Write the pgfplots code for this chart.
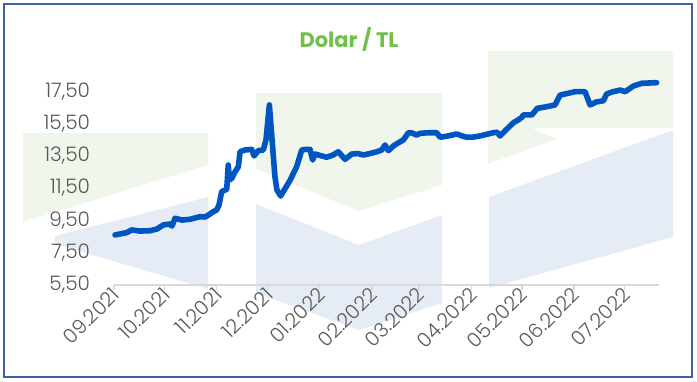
\documentclass[border=0pt]{standalone}
\usepackage{pgfplots}
\pgfplotsset{compat=1.18}
\usepackage{fontspec}
\setmainfont{Poppins}
\IfFontExistsTF{Poppins Light}{\newfontfamily\lightfont{Poppins Light}}{\newfontfamily\lightfont{Poppins}}
\definecolor{linecol}{RGB}{0,86,192}
\definecolor{titlegreen}{RGB}{112,192,74}
\definecolor{ticktext}{RGB}{89,89,89}
\definecolor{axisgray}{RGB}{217,217,217}
\definecolor{wmgreen}{RGB}{240,246,235}
\definecolor{wmblue}{RGB}{230,236,246}
\definecolor{bordercol}{RGB}{62,96,166}
\begin{document}
\begin{tikzpicture}
\begin{scope}[x=0.5pt,y=-0.5pt,yshift=190.5pt]
\useasboundingbox (0,0) rectangle (697,381);
% watermark
\fill[wmgreen] (23,133)--(208,133)--(208,165)--(23,222)--cycle;
\fill[wmblue] (55,236)--(208,197)--(208,289)--(55,244)--cycle;
\fill[wmgreen] (256,93)--(442,93)--(442,185)--(359,211)--(256,169)--cycle;
\fill[wmblue] (256,204)--(359,245)--(442,215)--(442,303)--(359,330)--(256,293)--cycle;
\fill[wmgreen] (488,51)--(673,51)--(673,128)--(532,128)--(557,139)--(488,164)--cycle;
\fill[wmblue] (489,197)--(673,130)--(673,237)--(489,288)--cycle;
\draw[bordercol, line width=1pt] (3.5,4.5) rectangle (692,376.5);
\node[font=\bfseries\fontsize{10.5}{12}\selectfont, text=titlegreen] at (349,39) {Dolar / TL};
\end{scope}
\begin{axis}[
  at={(57pt,48pt)}, anchor=south west,
  scale only axis, width=272.5pt, height=104.975pt,
  xmin=0, xmax=323.4, ymin=5.5, ymax=18.5,
  axis x line*=bottom, axis y line*=left,
  x axis line style={draw=axisgray, line width=0.8pt, -},
  y axis line style={draw=none},
  ytick style={draw=none},
  xtick style={draw=axisgray, line width=0.7pt},
  tick align=outside, major tick length=2.5pt,
  xtick={0,30,61,91,122,153,181,212,242,273,303},
  xticklabels={09.2021,10.2021,11.2021,12.2021,01.2022,02.2022,03.2022,04.2022,05.2022,06.2022,07.2022},
  ytick={5.5,7.5,9.5,11.5,13.5,15.5,17.5},
  /pgf/number format/.cd, use comma, fixed, fixed zerofill, precision=2, assume math mode=true,
  /pgfplots/.cd,
  tick label style={font=\lightfont\fontsize{10}{12}\selectfont, text=ticktext},
  x tick label style={rotate=45, anchor=east, inner sep=1pt, xshift=1.5pt, yshift=-1pt},
  y tick label style={xshift=-6pt},
  clip=false,
]
\addplot[linecol, line width=2.8pt, line join=round, line cap=round] coordinates {
(0.6,8.60) (3.6,8.66) (7.5,8.74) (10.5,8.91) (15.4,8.84) (21.4,8.86) (25.5,8.97)
(29.3,9.22) (33.2,9.28) (34.4,9.15) (36.2,9.63) (40.4,9.52) (45.1,9.57) (51.0,9.73)
(54.0,9.71) (56.0,9.83) (58.9,10.04) (60.9,10.14) (62.3,10.45) (63.9,11.28) (66.9,11.43)
(67.8,12.93) (68.5,12.00) (69.9,12.11) (71.8,12.50) (73.8,12.83) (74.8,13.75) (77.7,13.86)
(81.7,13.90) (83.1,13.49) (85.6,13.82) (88.6,13.86) (90.2,14.48) (92.2,16.65) (93.8,14.48)
(95.5,12.21) (96.7,11.38) (98.9,11.01) (104.5,11.99) (108.4,12.83) (111.4,13.86) (113.9,13.90)
(116.3,13.90) (117.9,13.24) (119.3,13.61) (122.3,13.52) (126.2,13.41) (130.0,13.55) (133.1,13.75)
(137.1,13.28) (141.1,13.61) (144.8,13.64) (147.9,13.55) (151.9,13.64) (155.9,13.75) (158.9,13.86)
(160.8,14.17) (162.8,13.82) (165.8,14.11) (168.5,14.29) (171.7,14.48) (174.7,14.93) (176.9,14.91)
(179.6,14.79) (181.6,14.89) (186.4,14.93) (191.5,14.93) (193.5,14.65) (198.2,14.73) (203.4,14.85)
(206.5,14.73) (209.3,14.65) (213.1,14.66) (217.2,14.73) (225.1,14.93) (227.3,14.96) (229.1,14.73)
(232.6,15.10) (237.0,15.55) (239.8,15.72) (242.0,15.88) (242.9,16.03) (247.9,16.03) (251.2,16.44)
(256.8,16.54) (261.7,16.65) (264.7,17.26) (267.7,17.33) (273.6,17.47) (279.5,17.47) (282.5,16.65)
(286.1,16.83) (290.4,16.91) (292.4,17.33) (295.5,17.45) (300.3,17.57) (303.3,17.47) (308.2,17.82)
(313.2,17.99) (318.1,18.01) (322.0,18.03)
};
\end{axis}
\end{tikzpicture}
\end{document}
